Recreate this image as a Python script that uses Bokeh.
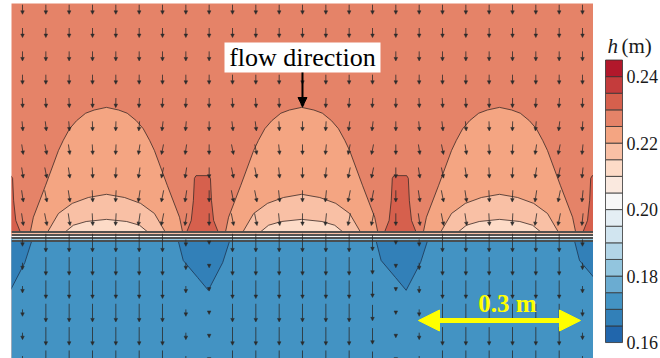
from bokeh.plotting import figure
from bokeh.models import Range1d, Arrow, NormalHead, ColumnDataSource
from bokeh.layouts import row
from bokeh.core.properties import value
from bokeh.embed import file_html
from bokeh.resources import INLINE

FONT = value("'Liberation Serif'")

# ---- colour levels of h (m) ----
levels = [0.160, 0.165, 0.170, 0.175, 0.180, 0.185, 0.190, 0.195, 0.200,
          0.205, 0.210, 0.215, 0.220, 0.225, 0.230, 0.235, 0.240, 0.245]
palette = ["#2166ac", "#3280b8", "#4393c3", "#6bacd1", "#92c5de", "#b2d5e7",
           "#d1e5f0", "#e4eef4", "#f7f7f7", "#fae9df", "#fddbc7", "#f9c0a5",
           "#f4a582", "#e58368", "#d6604d", "#c43c3c", "#b2182b"]
tick_vals = [0.16, 0.18, 0.20, 0.22, 0.24]
tick_labels = ["0.16", "0.18", "0.20", "0.22", "0.24"]

# ---- contour regions (x along flume, y elevation above the interface, m) ----
hump_x = [0.178, 0.544, 0.915]
chimney_x = [-0.013, 0.358, 0.729, 1.101]

hump_outer_dx = [-0.144, -0.143, -0.137, -0.114, -0.090, -0.081, -0.069, -0.056, -0.039, -0.023, 0.0,
                 0.023, 0.039, 0.056, 0.069, 0.081, 0.090, 0.114, 0.137, 0.143, 0.144]
hump_outer_y = [0.0, 0.009, 0.038, 0.098, 0.163, 0.182, 0.204, 0.219, 0.233, 0.239, 0.244,
                0.239, 0.233, 0.219, 0.204, 0.182, 0.163, 0.098, 0.038, 0.009, 0.0]
hump_mid_dx = [-0.113, -0.111, -0.090, -0.064, -0.034, 0.0, 0.034, 0.064, 0.090, 0.111, 0.113]
hump_mid_y = [0.0, 0.009, 0.045, 0.064, 0.075, 0.081, 0.075, 0.064, 0.045, 0.009, 0.0]
hump_core_dx = [-0.081, -0.079, -0.062, -0.038, 0.0, 0.038, 0.062, 0.079, 0.081]
hump_core_y = [0.0, 0.009, 0.023, 0.030, 0.034, 0.030, 0.023, 0.009, 0.0]
chimney_dx = [-0.034, -0.030, -0.021, -0.017, -0.015, -0.012, 0.012, 0.015, 0.017, 0.021, 0.030, 0.034]
chimney_y = [0.0, 0.009, 0.032, 0.069, 0.111, 0.116, 0.116, 0.111, 0.069, 0.032, 0.009, 0.0]
trough_dx = [-0.047, -0.036, -0.009, 0.011, 0.038, 0.053]
trough_y = [0.0, -0.043, -0.075, -0.099, -0.047, 0.0]

band_y = [0.0113, 0.0086, 0.0059, 0.0032, 0.0005, -0.0022, -0.0049, -0.0075]
band_idx = [12, 11, 9, 8, 6, 4, 3]

# ---- velocity arrows ----
arrow_cols = [0.0206, 0.0644, 0.1081, 0.1519, 0.1956, 0.2394, 0.2831, 0.3269, 0.3706, 0.4144,
              0.4581, 0.5019, 0.5456, 0.5894, 0.6331, 0.6769, 0.7206, 0.7644, 0.8081, 0.8519,
              0.8956, 0.9394, 0.9831, 1.0269, 1.0706]
arrow_rows = [0.4275, 0.3838, 0.3400, 0.2963, 0.2525, 0.2088, 0.1650, 0.1213, 0.0775, 0.0338,
              -0.0100, -0.0538, -0.0975, -0.1413, -0.1850, -0.2288]
upper_len = [0.018, 0.018, 0.018, 0.018, 0.018, 0.018, 0.019, 0.020, 0.022, 0.023]
tilt_weight = [0, 0, 0, 0, 0.3, 0.6, 1, 1, 1, 1]
tilt = [0.15, 0.2, 0.15, 0.05, -0.05, -0.15, -0.2, -0.15, 0.0, 0.2, 0.2, 0.1, 0.0,
        -0.1, -0.2, -0.2, 0.0, 0.15, 0.2, 0.15, 0.05, -0.05, -0.15, -0.2, -0.1]
lower_len = [0.013, 0.034, 0.034, 0.034, 0.034, 0.034, 0.034, 0.013, 0.006, 0.034,
             0.034, 0.034, 0.034, 0.034, 0.034, 0.030, 0.006, 0.013, 0.034, 0.034,
             0.034, 0.034, 0.034, 0.034, 0.013]

# ---- main field figure ----
p = figure(width=593, height=358, x_range=Range1d(0, 1.09125), y_range=Range1d(-0.226875, 0.43875),
           output_backend="svg", toolbar_location=None, x_axis_location=None, y_axis_location=None,
           min_border_left=11, min_border_top=3, min_border_right=0, min_border_bottom=0)
p.grid.visible = False
p.outline_line_color = None
p.background_fill_color = palette[13]
p.border_fill_color = "white"

p.quad(left=-0.1, right=1.2, bottom=-0.3, top=0.0, fill_color=palette[2], line_color=None)

LINE_UP = "#3b2a26"
p.patches(xs=[[c + d for d in chimney_dx] for c in chimney_x], ys=[chimney_y] * len(chimney_x),
          fill_color=palette[14], line_color=LINE_UP, line_width=0.8)
p.patches(xs=[[c + d for d in hump_outer_dx] for c in hump_x], ys=[hump_outer_y] * len(hump_x),
          fill_color=palette[12], line_color=LINE_UP, line_width=0.8)
p.patches(xs=[[c + d for d in hump_mid_dx] for c in hump_x], ys=[hump_mid_y] * len(hump_x),
          fill_color=palette[11], line_color=LINE_UP, line_width=0.8)
p.patches(xs=[[c + d for d in hump_core_dx] for c in hump_x], ys=[hump_core_y] * len(hump_x),
          fill_color=palette[10], line_color=LINE_UP, line_width=0.8)
p.patches(xs=[[c + d for d in trough_dx] for c in chimney_x], ys=[trough_y] * len(chimney_x),
          fill_color=palette[1], line_color="#1d3552", line_width=0.8)

p.quad(left=-0.1, right=1.2, top=band_y[:-1], bottom=band_y[1:],
       fill_color=[palette[i] for i in band_idx], line_color=None)
p.hspan(y=band_y, line_color="#4a4a4a", line_width=0.95)

x0, y0, x1, y1 = [], [], [], []
for r, yc in enumerate(arrow_rows):
    for c, xc in enumerate(arrow_cols):
        if yc > 0:
            L = upper_len[r]
            u = tilt[c] * tilt_weight[r] * L
        else:
            L = lower_len[c]
            u = 0.0
        x0.append(xc - u / 2); y0.append(yc + L / 2)
        x1.append(xc + u / 2); y1.append(yc - L / 2)
src = ColumnDataSource(dict(x0=x0, y0=y0, x1=x1, y1=y1))
p.add_layout(Arrow(source=src, x_start="x0", y_start="y0", x_end="x1", y_end="y1",
                   line_color="#2b2b2b", line_width=0.8,
                   end=NormalHead(size=3.5, fill_color="#2b2b2b", line_color="#2b2b2b", line_width=0.5)))

# flow direction label
box = p.rect(x=[0.5456], y=[0.3375], width=[0.2925], height=[0.05625], fill_color="white", line_color=None)
box.level = "overlay"
lab = p.text(x=[0.5456], y=[0.3375], text=["flow direction"], text_align="center", text_baseline="middle",
             text_font=FONT, text_font_size="26px", text_color="black")
lab.level = "overlay"
p.add_layout(Arrow(x_start=0.5456, y_start=0.3094, x_end=0.5456, y_end=0.2456, line_color="black",
                   line_width=2, end=NormalHead(size=9, fill_color="black", line_color="black"),
                   level="overlay"))

# scale bar
YEL = "#ffff00"
p.add_layout(Arrow(x_start=0.7631, y_start=-0.1556, x_end=1.0669, y_end=-0.1556, line_color=YEL, line_width=5,
                   start=NormalHead(size=21, fill_color=YEL, line_color=YEL),
                   end=NormalHead(size=21, fill_color=YEL, line_color=YEL), level="overlay"))
sb = p.text(x=[0.93], y=[-0.1238], text=["0.3 m"], text_align="center", text_baseline="alphabetic",
            text_font=FONT, text_font_size="25px", text_font_style="bold", text_color=YEL)
sb.level = "overlay"

# ---- colour bar figure ----
cb = figure(width=67, height=358, x_range=Range1d(593, 660), y_range=Range1d(0.15520, 0.26200),
            output_backend="svg", toolbar_location=None, x_axis_location=None, y_axis_location=None,
            min_border=0)
cb.grid.visible = False
cb.outline_line_color = None
cb.quad(left=605, right=622, bottom=levels[:-1], top=levels[1:], fill_color=palette,
        line_color="#333333", line_width=0.8)
cb.text(x=[626] * len(tick_vals), y=tick_vals, text=tick_labels, text_baseline="middle",
        text_font=FONT, text_font_size="18px", text_color="#1a1a1a")
cb.text(x=[607], y=[0.24918], text=["h"], text_baseline="alphabetic", text_font=FONT,
        text_font_size="21px", text_font_style="italic", text_color="#1a1a1a")
cb.text(x=[621], y=[0.24918], text=["(m)"], text_baseline="alphabetic", text_font=FONT,
        text_font_size="21px", text_color="#1a1a1a")

layout = row(p, cb)
open("out.html", "w").write(file_html(layout, INLINE))
